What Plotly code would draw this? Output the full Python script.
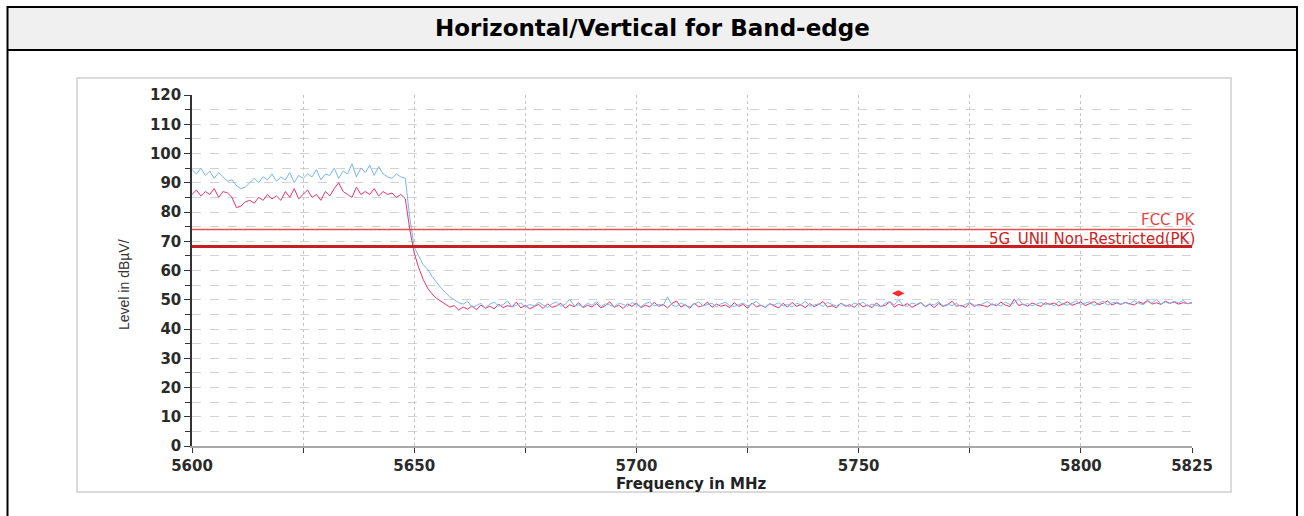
import plotly.graph_objects as go

W, H = 1304, 516


def px(x):
    return x / W


def py(y):
    return 1 - y / H


# ---------------- data ----------------
freq = list(range(5600, 5826))  # MHz, 1 MHz sweep points

h_level = [
    94.5, 93, 95, 92.5, 94, 91.5, 93.5, 92, 90.5, 91,
    89, 88, 88.5, 90, 91.5, 90, 92, 91, 93, 90.5,
    92, 91, 93.5, 90, 92.5, 91.5, 93, 92, 94.5, 91,
    93, 92.5, 95, 91.5, 94, 93, 96.5, 92, 95, 93.5,
    96, 92.5, 95.5, 93, 92, 91.5, 93, 92, 91.5,
    78, 68, 65, 62, 60.5, 58, 56, 54, 52.5, 51, 50,
    49, 48.5, 49.5, 47.5, 48, 48.8, 47.2, 48.5, 49.2, 47.8,
    48.3, 49.6, 47.5, 48.1, 48.9, 47.6, 48.4, 47.9, 49.1, 48.2,
    47.4, 48.6, 49.3, 47.8, 48.5, 50.2, 47.9, 48.3, 47.6, 48.8,
    48.1, 49.4, 47.7, 48.6, 48.2, 47.5, 48.9, 48.4, 47.8, 49.0,
    48.3, 47.6, 48.7, 49.2, 47.9, 48.4, 48.0, 51.0, 48.2, 47.7,
    48.9, 48.1, 47.6, 48.5, 49.3, 47.9, 48.3, 48.8, 47.5, 48.6,
    49.1, 48.0, 47.7, 48.4, 48.9, 47.8, 48.5, 49.4, 48.1, 47.6,
    48.7, 48.2, 49.0, 47.9, 48.4, 47.5, 48.8, 48.3, 49.5, 47.8,
    48.2, 48.6, 47.7, 49.1, 48.4, 47.9, 48.7, 48.1, 47.6, 48.9,
    48.3, 49.2, 47.8, 48.5, 48.0, 47.6, 48.8, 49.4, 48.2, 50.0,
    48.1, 47.7, 48.9, 48.4, 49.1, 47.8, 48.6, 48.2, 49.3, 47.9,
    48.5, 48.0, 48.8, 47.7, 48.4, 49.0, 48.2, 47.9, 48.7, 49.4,
    48.1, 48.6, 47.8, 49.2, 48.4, 48.9, 50.3, 48.2, 48.7, 47.9,
    48.5, 49.1, 48.3, 48.8, 47.9, 49.4, 48.5, 48.1, 48.9, 49.6,
    48.4, 48.8, 49.3, 48.0, 48.7, 49.5, 48.2, 48.9, 49.2, 48.5,
    49.0, 48.4, 49.7, 48.8, 48.3, 49.4, 48.9, 50.1, 48.6, 49.2,
    48.7, 49.5, 48.9, 49.8, 48.6, 49.1,
]

v_level = [
    86, 87.5, 85.5, 87, 86, 88, 85, 87, 86.5, 85,
    81.5, 82, 83.5, 84, 83, 85, 84, 86, 84.5, 85.5,
    84, 87, 85, 88, 84.5, 86, 87.5, 85, 86, 84,
    87, 85.5, 88, 90, 87, 86, 85, 88.5, 86, 87,
    86, 88, 85.5, 87, 86, 86.5, 85, 86, 84.5,
    74, 66, 61, 57, 54, 52, 50.5, 49.5, 48.5, 47.5, 48,
    46.5, 47.5, 46.8, 47.9, 46.6, 48.2, 47.1, 47.8, 46.9, 48.5,
    47.3, 48.0, 47.6, 49.2, 47.2, 48.1, 46.9, 47.7, 48.4, 47.0,
    48.6, 47.4, 47.9, 48.8, 47.1, 48.3, 47.6, 49.0, 47.3, 48.1,
    47.5, 48.7, 47.2, 48.0, 49.3, 47.4, 48.2, 47.0, 48.6, 47.7,
    48.9, 47.3, 48.1, 47.6, 49.1, 47.8, 48.4, 47.2, 48.7, 49.6,
    47.5, 48.3, 47.1, 48.8, 47.6, 48.0, 49.2, 47.4, 48.5, 47.8,
    48.2, 47.3, 49.0, 47.7, 48.4, 47.1, 48.9, 47.6, 48.1, 47.4,
    48.6, 47.9, 47.2, 48.8, 47.5, 49.1, 47.8, 48.3, 47.3, 48.7,
    47.6, 48.4, 49.4, 47.5, 48.0, 47.2, 48.9, 47.8, 48.3, 47.4,
    48.8, 47.6, 48.2, 47.3, 48.9, 47.7, 48.1, 49.3, 47.5, 48.4,
    47.9, 48.7, 47.4, 48.2, 49.0, 47.6, 48.5, 47.3, 48.8, 47.7,
    48.3, 49.5, 47.8, 48.1, 47.4, 48.9, 47.7, 48.4, 48.0, 47.6,
    48.6, 47.9, 49.2, 48.2, 47.7, 50.2, 48.0, 48.5, 47.8, 48.9,
    48.3, 47.7, 49.0, 48.4, 48.9, 47.9, 48.6, 49.3, 48.1, 48.7,
    49.2, 48.0, 48.6, 49.4, 48.3, 48.8, 49.6, 48.2, 48.9, 48.4,
    49.1, 48.6, 48.2, 49.3, 48.7, 49.8, 48.5, 49.0, 48.4, 49.5,
    48.8, 49.2, 48.5, 49.0, 48.7, 48.9,
]

fcc_pk_limit = 74.0
unii_limit = 68.2
limit_names = ["FCC PK", "5G_UNII Non-Restricted(PK)"]

marker_freq = [5758.9]
marker_level = [52.2]

x_tickvals = [5600, 5625, 5650, 5675, 5700, 5725, 5750, 5775, 5800, 5825]
x_ticktext = ["5600", "", "5650", "", "5700", "", "5750", "", "5800", "5825"]

# ---------------- figure ----------------
fig = go.Figure()
fig.add_trace(go.Scatter(x=freq, y=v_level, mode="lines",
                         line=dict(color="#e8336d", width=1), name="Vertical"))
fig.add_trace(go.Scatter(x=freq, y=h_level, mode="lines",
                         line=dict(color="#7ab6ec", width=1), name="Horizontal"))
fig.add_trace(go.Scatter(x=[freq[0], freq[-1]], y=[fcc_pk_limit] * 2, mode="lines",
                         line=dict(color="#e05252", width=1.5), name=limit_names[0]))
fig.add_trace(go.Scatter(x=[freq[0], freq[-1]], y=[unii_limit] * 2, mode="lines",
                         line=dict(color="#c81e1e", width=3), name=limit_names[1]))
fig.add_trace(go.Scatter(x=marker_freq, y=marker_level, mode="markers",
                         marker=dict(symbol="diamond-wide", size=9, color="#ff2a2a"),
                         name="Marker"))

tick_font = dict(family="DejaVu Sans", size=15, color="#2a2a2a", weight="bold")

fig.update_layout(
    template="none",
    width=W, height=H, autosize=False,
    margin=dict(l=0, r=0, t=0, b=0, pad=0, autoexpand=False),
    paper_bgcolor="white",
    plot_bgcolor="rgba(0,0,0,0)",
    showlegend=False,
    hovermode=False,
    xaxis=dict(
        domain=[px(192), px(1192)],
        range=[5600, 5825], automargin=False,
        tickvals=x_tickvals, ticktext=x_ticktext,
        showgrid=True, gridcolor="#c4c4c4", griddash="dot", gridwidth=1,
        showline=True, linecolor="#a8a8a8", linewidth=2,
        ticks="outside", ticklen=5, tickcolor="#333333",
        tickfont=tick_font, zeroline=False,
    ),
    yaxis=dict(
        domain=[py(446), py(95)],
        range=[0, 120], tick0=0, dtick=10, automargin=False,
        showgrid=True, gridcolor="#d2d2d2", griddash="dash", gridwidth=1,
        minor=dict(dtick=5, showgrid=True, gridcolor="#d2d2d2", griddash="dash",
                   ticks="outside", ticklen=5, tickcolor="#333333"),
        showline=True, linecolor="#333333", linewidth=1.5,
        ticks="outside", ticklen=6, tickcolor="#333333",
        tickfont=tick_font, zeroline=False,
    ),
)

shapes = [
    # title band
    dict(type="rect", xref="paper", yref="paper", x0=px(8), x1=px(1297), y0=py(50), y1=py(7),
         fillcolor="#f0f0f0", line=dict(width=0), layer="below"),
    # chart frame
    dict(type="rect", xref="paper", yref="paper", x0=px(77), x1=px(1231), y0=py(492), y1=py(78),
         fillcolor="white", line=dict(color="#cfcfcf", width=1.5), layer="below"),
    # outer table borders
    dict(type="line", xref="paper", yref="paper", x0=px(7), x1=px(1298), y0=py(7), y1=py(7),
         line=dict(color="black", width=2)),
    dict(type="line", xref="paper", yref="paper", x0=px(7), x1=px(1298), y0=py(50), y1=py(50),
         line=dict(color="black", width=2)),
    dict(type="line", xref="paper", yref="paper", x0=px(7.5), x1=px(7.5), y0=py(6), y1=py(516),
         line=dict(color="black", width=2)),
    dict(type="line", xref="paper", yref="paper", x0=px(1297), x1=px(1297), y0=py(6), y1=py(516),
         line=dict(color="black", width=2)),
]
fig.update_layout(shapes=shapes)

annotations = [
    dict(text="<b>Horizontal/Vertical for Band-edge</b>", xref="paper", yref="paper",
         x=px(652), y=py(28.5), xanchor="center", yanchor="middle", showarrow=False,
         font=dict(family="DejaVu Sans", size=23, color="black")),
    dict(text="Level in dBµV/", xref="paper", yref="paper", x=px(124), y=py(285),
         xanchor="center", yanchor="middle", textangle=-90, showarrow=False,
         font=dict(family="Liberation Sans", size=14, color="#333333")),
    dict(text="Frequency in MHz", xref="paper", yref="paper", x=px(691), y=py(484),
         xanchor="center", yanchor="middle", showarrow=False,
         font=dict(family="DejaVu Sans", size=15, color="#222222", weight="bold")),
    dict(text=limit_names[0], xref="x", yref="y", x=5825, y=77.1, xanchor="right",
         yanchor="middle", xshift=5, showarrow=False,
         font=dict(family="DejaVu Sans", size=15, color="#e04848")),
    dict(text=limit_names[1], xref="x", yref="y", x=5825, y=70.5, xanchor="right",
         yanchor="middle", xshift=5, showarrow=False,
         font=dict(family="DejaVu Sans", size=15, color="#cc2222")),
]
fig.update_layout(annotations=annotations)

fig.write_html(
    "out.html",
    config={"displayModeBar": False},
    post_script="document.body.style.margin='0px';"
                "document.body.style.overflow='hidden';"
                "document.documentElement.style.overflow='hidden';",
)
